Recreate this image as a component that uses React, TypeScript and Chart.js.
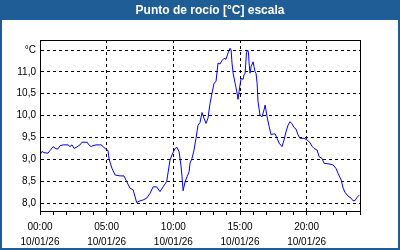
import React, { useEffect, useRef } from "react";
import { Chart, registerables } from "chart.js";

Chart.register(...registerables);

// minutes since 00:00 on 10/01/26
const times = [
  0, 9, 18, 36, 45, 59, 72, 81, 90, 104, 126, 135, 144, 153, 162, 180, 189, 212, 220, 230,
  238, 252, 275, 284, 297, 306, 311, 324, 338, 360, 378, 390, 405, 419, 428, 435, 450, 464, 480, 495,
  509, 525, 540, 554, 570, 585, 594, 608, 617, 626, 635, 639, 644, 653, 662, 671, 675, 684, 693, 702,
  711, 720, 729, 738, 747, 756, 765, 774, 783, 792, 801, 810, 819, 828, 837, 846, 855, 860, 864, 869,
  878, 887, 891, 896, 900, 905, 914, 918, 923, 929, 934, 938, 941, 945, 950, 959, 963, 968, 972, 977,
  981, 990, 999, 1008, 1013, 1022, 1031, 1040, 1049, 1058, 1067, 1076, 1089, 1098, 1107, 1116, 1125, 1134, 1143, 1152,
  1161, 1170, 1188, 1202, 1215, 1224, 1233, 1247, 1256, 1269, 1278, 1305, 1319, 1332, 1341, 1355, 1364, 1373, 1386, 1400,
  1409, 1418, 1427, 1436,
];

const dewPoint = [
  9.10, 9.18, 9.15, 9.14, 9.20, 9.29, 9.24, 9.24, 9.31, 9.33, 9.33, 9.29, 9.33, 9.25, 9.27, 9.33, 9.39, 9.39, 9.33, 9.29,
  9.31, 9.33, 9.33, 9.29, 9.23, 9.20, 9.00, 8.79, 8.64, 8.62, 8.62, 8.49, 8.34, 8.30, 8.14, 8.01, 8.05, 8.07, 8.11, 8.22,
  8.37, 8.37, 8.26, 8.37, 8.49, 8.98, 9.10, 9.25, 9.27, 9.17, 8.83, 8.60, 8.28, 8.49, 8.60, 8.72, 8.91, 9.02, 9.21, 9.48,
  9.78, 9.84, 10.07, 9.94, 9.82, 9.94, 10.28, 10.51, 10.74, 10.78, 11.20, 11.18, 11.26, 11.31, 11.29, 11.43, 11.54, 11.50, 11.20, 10.97,
  10.74, 10.51, 10.37, 10.55, 10.70, 10.85, 10.83, 10.93, 10.97, 11.43, 11.50, 11.45, 11.20, 10.97, 11.12, 11.23, 11.12, 11.00, 10.97, 10.74,
  10.32, 10.01, 9.97, 10.13, 10.24, 9.97, 9.75, 9.56, 9.58, 9.58, 9.48, 9.37, 9.29, 9.44, 9.63, 9.78, 9.86, 9.81, 9.73, 9.69,
  9.56, 9.48, 9.48, 9.44, 9.38, 9.30, 9.25, 9.21, 9.06, 9.02, 8.91, 8.89, 8.87, 8.79, 8.68, 8.53, 8.34, 8.24, 8.16, 8.11,
  8.05, 8.06, 8.13, 8.18,
];

const yTicks = [8.0, 8.5, 9.0, 9.5, 10.0, 10.5, 11.0, 11.5];
const xTicks = [
  0, 60, 120, 180, 240, 300, 360, 420, 480, 540, 600, 660, 720, 780, 840, 900, 960, 1020, 1080, 1140,
  1200, 1260, 1320, 1380, 1440,
];
const dateLabel = "10/01/26";
const titleText = "Punto de rocío [°C] escala";
const unitLabel = "°C";

const BLUE = "#1f5d96";
const FONT = "'Liberation Sans', Arial, sans-serif";

const framePlugin = {
  id: "frame",
  afterLayout(chart: any) {
    if (chart.titleBlock) chart.titleBlock.left = 20;
  },
  beforeDraw(chart: any) {
    const { ctx, width, height } = chart;
    ctx.save();
    ctx.fillStyle = "#ffffff";
    ctx.fillRect(0, 0, width, height);
    ctx.fillStyle = BLUE;
    ctx.fillRect(0, 0, width, 20);
    ctx.fillRect(0, 0, 2, height);
    ctx.fillRect(width - 2, 0, 2, height);
    ctx.fillRect(0, height - 2, width, 2);
    ctx.restore();
  },
  afterDraw(chart: any) {
    const { ctx, chartArea } = chart;
    ctx.save();
    ctx.strokeStyle = "#000000";
    ctx.lineWidth = 1;
    ctx.setLineDash([]);
    ctx.strokeRect(
      Math.round(chartArea.left) + 0.5,
      Math.round(chartArea.top) + 0.5,
      Math.round(chartArea.right - chartArea.left),
      Math.round(chartArea.bottom - chartArea.top)
    );
    ctx.restore();
  },
};

export default function App() {
  const ref = useRef<HTMLCanvasElement | null>(null);

  useEffect(() => {
    document.body.style.margin = "0";
    if (!ref.current) return;
    const pad = (n: number) => (n < 10 ? "0" + n : "" + n);
    const chart = new Chart(ref.current, {
      type: "line",
      data: {
        datasets: [
          {
            data: times.map((t, i) => ({ x: t, y: dewPoint[i] })),
            borderColor: "#0000ff",
            borderWidth: 1,
            pointRadius: 0,
            tension: 0,
            fill: false,
          },
        ],
      },
      plugins: [framePlugin],
      options: {
        responsive: false,
        animation: false,
        events: [],
        layout: { padding: 0 },
        plugins: {
          legend: { display: false },
          tooltip: { enabled: false },
          title: {
            display: true,
            text: titleText,
            color: "#ffffff",
            font: { family: FONT, size: 12, weight: "bold", lineHeight: 1.2 },
            padding: { top: 3, bottom: 22.6 },
          },
        },
        scales: {
          x: {
            type: "linear",
            min: 0,
            max: 1440,
            afterBuildTicks: (axis: any) => {
              axis.ticks = xTicks.map((v) => ({ value: v }));
            },
            afterFit: (axis: any) => {
              axis.height = 39;
            },
            ticks: {
              autoSkip: false,
              maxRotation: 0,
              padding: 5,
              color: "#000000",
              font: { family: FONT, size: 10, lineHeight: 1.48 },
              callback: (value: any) => {
                const v = Number(value);
                if (v % 300 !== 0 || v >= 1440) return "";
                return [pad(v / 60) + ":00", dateLabel];
              },
            },
            grid: {
              color: (c: any) =>
                c.tick && c.tick.value % 300 === 0 && c.tick.value > 0 && c.tick.value < 1440
                  ? "#000000"
                  : "rgba(0,0,0,0)",
              tickColor: "#000000",
              tickLength: 4,
              lineWidth: 1,
            },
            border: { display: true, color: "#000000", width: 1, dash: [3, 3] },
          },
          y: {
            type: "linear",
            min: 7.817,
            max: 11.729,
            afterBuildTicks: (axis: any) => {
              axis.ticks = yTicks.map((v) => ({ value: v }));
            },
            afterFit: (axis: any) => {
              axis.width = 40;
            },
            ticks: {
              padding: 4,
              color: "#000000",
              font: { family: FONT, size: 10 },
              callback: (value: any) => {
                const v = Number(value);
                if (Math.abs(v - 11.5) < 1e-6) return unitLabel;
                return v.toFixed(1).replace(".", ",");
              },
            },
            grid: {
              color: "#000000",
              drawTicks: false,
              lineWidth: 1,
            },
            border: { display: true, color: "#000000", width: 1, dash: [3, 3] },
          },
          y2: {
            type: "linear",
            position: "right",
            display: true,
            afterFit: (axis: any) => {
              axis.width = 40;
            },
            ticks: { display: false },
            grid: { display: false, drawTicks: false },
            border: { display: false },
          },
        },
      },
    } as any);
    return () => chart.destroy();
  }, []);

  return (
    <div style={{ width: 400, height: 250 }}>
      <canvas ref={ref} width={400} height={250} />
    </div>
  );
}
